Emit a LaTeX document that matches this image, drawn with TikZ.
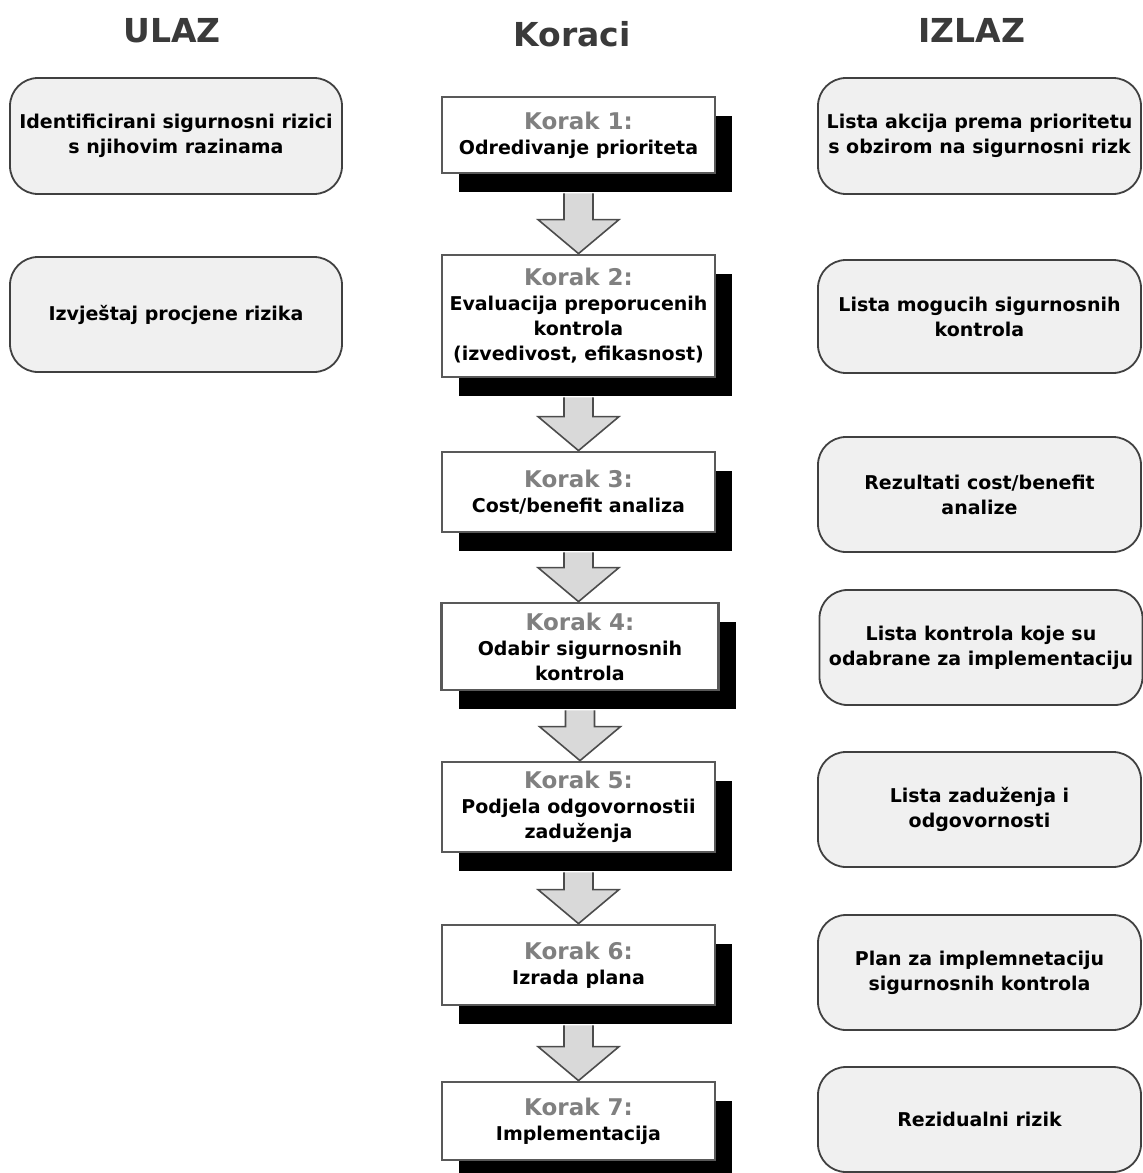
\documentclass[tikz,border=0pt]{standalone}
\usepackage{fontspec}
\setmainfont{DejaVu Sans}
\usepackage{tikz}
\usetikzlibrary{positioning,calc,shadows}
\definecolor{korakgray}{RGB}{128,128,128}
\definecolor{headgray}{RGB}{58,58,58}
\definecolor{boxfill}{RGB}{240,240,240}
\definecolor{arrowfill}{RGB}{217,217,217}
\tikzstyle{header} = [text=headgray, font=\fontsize{16.5}{20}\selectfont\bfseries]
\tikzstyle{iobox} = [draw=black!75, line width=0.9pt, fill=boxfill, rounded corners=14pt,
    align=center, inner sep=0pt, minimum width=166pt, font=\fontsize{9.5}{12.5}\selectfont\bfseries]
\tikzstyle{outbox} = [iobox, minimum width=161.5pt]
\tikzstyle{stepbox} = [draw=black!65, line width=1.4pt, fill=white, align=center, inner sep=0pt,
    minimum width=136.5pt, font=\fontsize{9.5}{12.5}\selectfont\bfseries,
    drop shadow={shadow xshift=8.5pt, shadow yshift=-9.5pt, fill=black, opacity=1}]
\tikzstyle{flowarrow} = [draw=black!70, line width=0.8pt, fill=arrowfill, line join=miter]
\newcommand{\korak}[1]{{\color{korakgray}\fontsize{11.5}{12.5}\selectfont Korak #1:}}
% big arrow from the shadow of one step to the top of the next
\newcommand{\stepflow}[2]{%
  \path[flowarrow] ($(#1.south)+(-14.5,19)$) -- ($(#1.south |- #2.north)+(-14.5,-34)$) -- ++(-26,0)
    -- (#1.south |- #2.north) -- ($(#1.south |- #2.north)+(40.5,-34)$) -- ++(-26,0)
    -- ($(#1.south)+(14.5,19)$);}

\begin{document}
\begin{tikzpicture}[x=0.5pt,y=-0.5pt]
    \useasboundingbox (0,0) rectangle (1142,1173);
    % Column titles
    \node[header] (ulaz) at (172,31) {ULAZ};
    \node[header] (koraci) at (572,34) {Koraci};
    \node[header] (izlaz) at (972,30) {IZLAZ};

    % Inputs
    \node[iobox, minimum height=58pt] (in1) at (176,136)
        {Identificirani sigurnosni rizici\\s njihovim razinama};
    \node[iobox, minimum height=57.5pt] (in2) at (176,314.5) {Izvještaj procjene rizika};

    % Steps
    \node[stepbox, minimum height=38pt] (s1) at (578.5,135)
        {\korak{1}\\Odredivanje prioriteta};
    \node[stepbox, minimum height=61pt] (s2) at (578.5,316)
        {\korak{2}\\Evaluacija preporucenih\\kontrola\\(izvedivost, efikasnost)};
    \node[stepbox, minimum height=40pt] (s3) at (578.5,492)
        {\korak{3}\\Cost/benefit analiza};
    \node[stepbox, minimum width=138.5pt, minimum height=43.5pt] (s4) at (580,646.5)
        {\korak{4}\\Odabir sigurnosnih\\kontrola};
    \node[stepbox, minimum height=45pt] (s5) at (578.5,807)
        {\korak{5}\\Podjela odgovornostii\\zaduženja};
    \node[stepbox, minimum height=40pt] (s6) at (578.5,965)
        {\korak{6}\\Izrada plana};
    \node[stepbox, minimum height=39pt] (s7) at (578.5,1121)
        {\korak{7}\\Implementacija};

    % Outputs
    \node[outbox, minimum height=58pt] (out1) at (979.5,136)
        {Lista akcija prema prioritetu\\s obzirom na sigurnosni rizk};
    \node[outbox, minimum height=56.5pt] (out2) at (979.5,316.5)
        {Lista mogucih sigurnosnih\\kontrola};
    \node[outbox, minimum height=57.5pt] (out3) at (979.5,494.5)
        {Rezultati cost/benefit\\analize};
    \node[outbox, minimum height=57.5pt] (out4) at (981,647.5)
        {Lista kontrola koje su\\odabrane za implementaciju};
    \node[outbox, minimum height=57.5pt] (out5) at (979.5,809.5)
        {Lista zaduženja i\\odgovornosti};
    \node[outbox, minimum height=57.5pt] (out6) at (979.5,972.5)
        {Plan za implemnetaciju\\sigurnosnih kontrola};
    \node[outbox, minimum height=52.5pt] (out7) at (979.5,1119.5) {Rezidualni rizik};

    % Arrows between the steps
    \stepflow{s1}{s2}
    \stepflow{s2}{s3}
    \stepflow{s3}{s4}
    \stepflow{s4}{s5}
    \stepflow{s5}{s6}
    \stepflow{s6}{s7}
\end{tikzpicture}
\end{document}
